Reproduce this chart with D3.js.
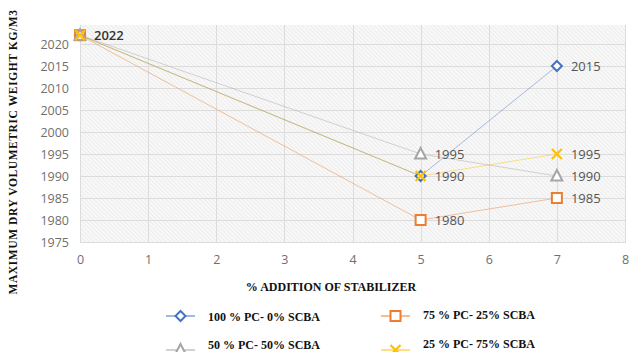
<!DOCTYPE html>
<html>
<head>
<meta charset="utf-8">
<script src="https://cdn.jsdelivr.net/npm/d3@7"></script>
<style>
  body { margin: 0; background: #fff; }
  svg { display: block; }
</style>
</head>
<body>
<svg id="chart" width="640" height="352"></svg>
<script>
// chart data
const xValues = [0, 5, 7];
const seriesNames = ["100 % PC- 0% SCBA", "75 % PC- 25% SCBA", "50 % PC- 50% SCBA", "25 % PC- 75% SCBA"];
const pc100 = [2022, 1990, 2015];
const pc75 = [2022, 1980, 1985];
const pc50 = [2022, 1995, 1990];
const pc25 = [2022, 1990, 1995];
const xTicks = [0, 1, 2, 3, 4, 5, 6, 7, 8];
const yTicks = [1975, 1980, 1985, 1990, 1995, 2000, 2005, 2010, 2015, 2020];

// which data labels the original shows: [series, point index]
const labelled = [[0, 0], [2, 1], [0, 1], [1, 1], [0, 2], [3, 2], [2, 2], [1, 2]];

const colors = ["#4472C4", "#ED7D31", "#A5A5A5", "#FFC000"];
const shapes = ["diamond", "square", "triangle", "cross"];
const allSeries = [pc100, pc75, pc50, pc25];

const svg = d3.select("#chart");
const plot = { left: 80, right: 625, top: 25, bottom: 243 };

const x = d3.scaleLinear().domain([0, 8]).range([plot.left, plot.right]);
const y = d3.scaleLinear().domain([1975, 2025]).range([242, 22]);

// hatched plot background
const defs = svg.append("defs");
const pat = defs.append("pattern")
  .attr("id", "hatch")
  .attr("width", 3).attr("height", 3)
  .attr("patternUnits", "userSpaceOnUse")
  .attr("patternTransform", "rotate(-45)");
pat.append("rect").attr("width", 3).attr("height", 3).attr("fill", "#f8f8f8");
pat.append("line").attr("x1", 0).attr("y1", 0).attr("x2", 0).attr("y2", 3)
  .attr("stroke", "#e2e2e2").attr("stroke-width", 1);

svg.append("rect")
  .attr("x", plot.left).attr("y", plot.top)
  .attr("width", plot.right - plot.left).attr("height", plot.bottom - plot.top)
  .attr("fill", "url(#hatch)");

// grid
const grid = svg.append("g").attr("stroke", "#dcdcdc").attr("stroke-width", 1);
grid.selectAll("line.h").data(yTicks).join("line")
  .attr("class", "h")
  .attr("x1", plot.left).attr("x2", plot.right)
  .attr("y1", d => Math.round(y(d)) + 0.5).attr("y2", d => Math.round(y(d)) + 0.5);
grid.selectAll("line.v").data(xTicks).join("line")
  .attr("class", "v")
  .attr("x1", d => Math.round(x(d)) + 0.5).attr("x2", d => Math.round(x(d)) + 0.5)
  .attr("y1", plot.top).attr("y2", plot.bottom);

// axes (labels only, Excel style)
const xAxis = svg.append("g")
  .attr("transform", `translate(0, ${plot.bottom + 8})`)
  .call(d3.axisBottom(x).tickValues(xTicks).tickSize(0).tickPadding(4));
const yAxis = svg.append("g")
  .attr("transform", `translate(${plot.left - 11}, 0)`)
  .call(d3.axisLeft(y).tickValues(yTicks).tickFormat(d3.format("d")).tickSize(0).tickPadding(0));
[xAxis, yAxis].forEach(a => {
  a.select(".domain").remove();
  a.selectAll("text")
    .attr("fill", "#6f6f6f")
    .style("font-family", "'Open Sans', sans-serif")
    .style("font-size", "12.5px");
});

// lines
const line = d3.line()
  .x((d, i) => x(xValues[i]))
  .y(d => y(d));

svg.append("g").selectAll("path")
  .data(allSeries)
  .join("path")
  .attr("fill", "none")
  .attr("stroke", (d, i) => colors[i])
  .attr("stroke-opacity", 0.45)
  .attr("stroke-width", 1)
  .attr("d", line);

// markers
function drawMarker(g, shape, color, cx, cy) {
  if (shape === "diamond") {
    g.append("path")
      .attr("d", `M${cx},${cy - 5}L${cx + 5},${cy}L${cx},${cy + 5}L${cx - 5},${cy}Z`)
      .attr("fill", "#fff").attr("stroke", color).attr("stroke-width", 2);
  } else if (shape === "square") {
    g.append("rect")
      .attr("x", cx - 5).attr("y", cy - 5).attr("width", 10).attr("height", 10)
      .attr("fill", "#fff").attr("stroke", color).attr("stroke-width", 2);
  } else if (shape === "triangle") {
    g.append("path")
      .attr("d", `M${cx},${cy - 6}L${cx + 5.5},${cy + 4.5}L${cx - 5.5},${cy + 4.5}Z`)
      .attr("fill", "#fff").attr("stroke", color).attr("stroke-width", 2);
  } else {
    g.append("path")
      .attr("d", `M${cx - 5},${cy - 5}L${cx + 5},${cy + 5}M${cx + 5},${cy - 5}L${cx - 5},${cy + 5}`)
      .attr("fill", "none").attr("stroke", color).attr("stroke-width", 2.2);
  }
}

const markers = svg.append("g");
allSeries.forEach((vals, s) => {
  vals.forEach((v, i) => drawMarker(markers, shapes[s], colors[s], x(xValues[i]), y(v)));
});

// data labels
svg.append("g").selectAll("text")
  .data(labelled)
  .join("text")
  .attr("x", d => x(xValues[d[1]]) + 14)
  .attr("y", d => y(allSeries[d[0]][d[1]]))
  .attr("dy", "0.36em")
  .attr("fill", d => d[1] === 0 ? "#333" : "#555")
  .style("font-family", "'Open Sans', sans-serif")
  .style("font-size", "13px")
  .style("font-weight", d => d[1] === 0 ? "600" : "400")
  .text(d => allSeries[d[0]][d[1]]);

// axis titles
const serif = "'Liberation Serif', 'Times New Roman', serif";
svg.append("text")
  .attr("x", 331).attr("y", 291)
  .attr("text-anchor", "middle")
  .attr("fill", "#111")
  .style("font-family", serif)
  .style("font-size", "12px")
  .style("font-weight", "bold")
  .text("% ADDITION OF STABILIZER");

svg.append("text")
  .attr("transform", "translate(17, 152) rotate(-90)")
  .attr("text-anchor", "middle")
  .attr("fill", "#111")
  .style("font-family", serif)
  .style("font-size", "11.5px")
  .style("font-weight", "bold")
  .style("letter-spacing", "0.6px")
  .text("MAXIMUM DRY VOLUMETRIC WEIGHT  KG/M3");

// legend
const legendPos = [
  { lx: 166, tx: 208, cy: 316, ty: 317 },
  { lx: 381, tx: 423, cy: 316, ty: 315 },
  { lx: 166, tx: 208, cy: 350, ty: 345 },
  { lx: 381, tx: 423, cy: 350, ty: 344 }
];
const legend = svg.append("g");
seriesNames.forEach((name, i) => {
  const p = legendPos[i];
  legend.append("line")
    .attr("x1", p.lx).attr("x2", p.lx + 29)
    .attr("y1", p.cy).attr("y2", p.cy)
    .attr("stroke", colors[i]).attr("stroke-width", 1);
  drawMarker(legend, shapes[i], colors[i], p.lx + 14.5, p.cy);
  legend.append("text")
    .attr("x", p.tx).attr("y", p.ty)
    .attr("dy", "0.35em")
    .attr("fill", "#111")
    .style("font-family", serif)
    .style("font-size", "12px")
    .style("font-weight", "bold")
    .text(name);
});
</script>
</body>
</html>
